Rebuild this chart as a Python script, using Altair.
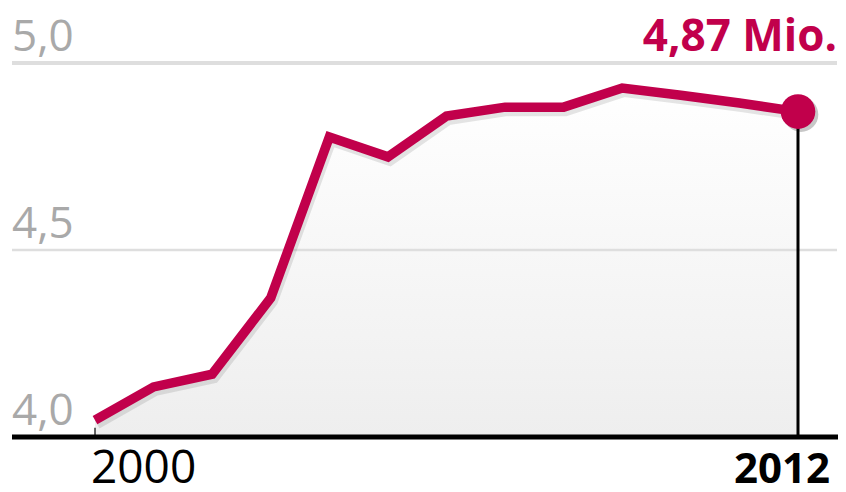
import altair as alt
import pandas as pd

# ---- data ----
years = list(range(2000, 2013))
values = [4.045, 4.134, 4.168, 4.372, 4.802, 4.749, 4.858, 4.882, 4.882, 4.933, 4.914, 4.893, 4.87]
grid_major = [5.0]
grid_minor = [4.5]
base_value = 4.0
y_label_values = [5.0, 4.5, 4.0]
y_label_texts = ["5,0", "4,5", "4,0"]
first_year_label = "2000"
last_year_label = "2012"
last_value_label = "4,87 Mio."

RED = "#c1004b"
FONT = "Open Sans"

# plot area W x H px
W, H = 830, 476
XD = [1998.5149, 2012.6829]
YD = [3.87433, 5.14706]


def xv(px):
    return XD[0] + px / W * (XD[1] - XD[0])


def yv(px):
    return YD[1] - px / H * (YD[1] - YD[0])


Y_XLAB = yv(475)  # baseline row of year labels

df = pd.DataFrame({"year": years, "value": values, "base": base_value})
last = df.tail(1).copy()
last["xlabel"] = last_year_label
last["ylab"] = Y_XLAB
first = df.head(1).copy()
first["top"] = base_value + 0.025
first["xlabel"] = first_year_label
first["ylab"] = Y_XLAB
gmaj_df = pd.DataFrame({"year": [xv(4)], "x2": [xv(829)], "value": grid_major})
gmin_df = pd.DataFrame({"year": [xv(4)], "x2": [xv(829)], "value": grid_minor})
base_df = pd.DataFrame({"year": [xv(4)], "x2": [xv(830)], "value": [base_value]})
ylab_df = pd.DataFrame({"year": [xv(4)] * 3, "value": y_label_values, "label": y_label_texts})
vlab_df = pd.DataFrame({"year": [years[-1]], "value": [5.0], "label": [last_value_label]})

xs = alt.Scale(domain=XD, nice=False, zero=False)
ys = alt.Scale(domain=YD, nice=False, zero=False)
X = alt.X("year:Q", scale=xs, axis=None)
Y = alt.Y("value:Q", scale=ys, axis=None)

area = alt.Chart(df).mark_area(
    color=alt.Gradient(
        gradient="linear",
        stops=[alt.GradientStop(color="#ffffff", offset=0),
               alt.GradientStop(color="#eeeeee", offset=1)],
        x1=1, x2=1, y1=0, y2=1,
    ),
).encode(x=X, y=Y, y2=alt.Y2("base"))

grid_a = alt.Chart(gmaj_df).mark_rule(color="#dedede", strokeWidth=4).encode(
    x=X, x2=alt.X2("x2"), y=Y
)
grid_b = alt.Chart(gmin_df).mark_rule(color="#dedede", strokeWidth=2.5).encode(
    x=X, x2=alt.X2("x2"), y=Y
)

shadow = alt.Chart(df).mark_line(
    color="#000000", opacity=0.10, strokeWidth=10, strokeJoin="miter",
    xOffset=2, yOffset=4,
).encode(x=X, y=Y)

line = alt.Chart(df).mark_line(color=RED, strokeWidth=9.5, strokeJoin="miter").encode(x=X, y=Y)

vrule = alt.Chart(last).mark_rule(color="#000000", strokeWidth=3).encode(
    x=X, y=Y, y2=alt.Y2("base")
)

tick0 = alt.Chart(first).mark_rule(color="#000000", strokeWidth=1.2).encode(
    x=X, y=alt.Y("base:Q", scale=ys, axis=None), y2=alt.Y2("top")
)

dot_shadow = alt.Chart(last).mark_point(
    filled=True, shape="circle", size=1200, color="#000000", opacity=0.22,
    xOffset=3, yOffset=3,
).encode(x=X, y=Y)

dot = alt.Chart(last).mark_point(
    filled=True, shape="circle", size=1200, color=RED, opacity=1,
).encode(x=X, y=Y)

baseline = alt.Chart(base_df).mark_rule(color="#000000", strokeWidth=5).encode(
    x=X, x2=alt.X2("x2"), y=Y
)

ylabels = alt.Chart(ylab_df).mark_text(
    font=FONT, fontSize=44, color="#a9a9a9", align="left", baseline="alphabetic", dy=-12,
).encode(x=X, y=Y, text="label:N")

YL = alt.Y("ylab:Q", scale=ys, axis=None)

xlab_first = alt.Chart(first).mark_text(
    font=FONT, fontSize=46, color="#000000", align="left", baseline="alphabetic", dx=-4,
).encode(x=X, y=YL, text="xlabel:N")

xlab_last = alt.Chart(last).mark_text(
    font=FONT, fontSize=42, fontWeight="bold", color="#000000", align="right",
    baseline="alphabetic", dx=32,
).encode(x=X, y=YL, text="xlabel:N")

value_label = alt.Chart(vlab_df).mark_text(
    font=FONT, fontSize=44, fontWeight="bold", color=RED, align="right",
    baseline="alphabetic", dx=39, dy=-12,
).encode(x=X, y=Y, text="label:N")

chart = alt.layer(
    area, grid_a, grid_b, shadow, line, vrule, tick0, dot_shadow, dot, baseline,
    ylabels, xlab_first, xlab_last, value_label,
).properties(
    width=W, height=H, padding=0, autosize=alt.AutoSizeParams(type="none"),
).configure_view(stroke=None)

chart.save("out.html", embed_options={"renderer": "svg", "actions": False})
